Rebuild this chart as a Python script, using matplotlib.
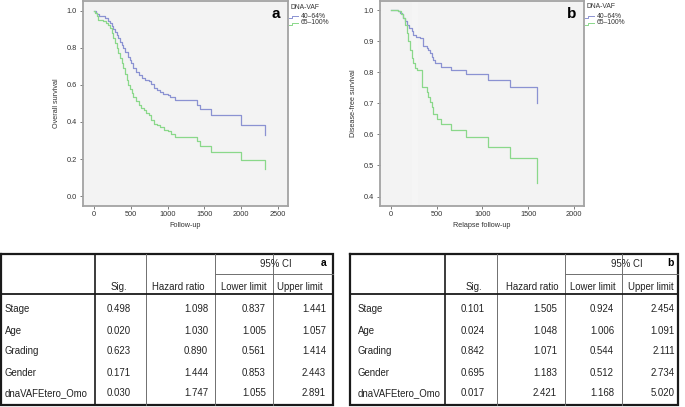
import matplotlib
matplotlib.use('Agg')
import matplotlib.pyplot as plt

plt.rcParams['font.family'] = ['Liberation Sans', 'DejaVu Sans']

# ---------------- data: panel a (overall survival) ----------------
a_t_low = [0, 23, 45, 73, 105, 150, 195, 218, 241, 264, 286, 309, 332, 355, 377,
           400, 423, 455, 482, 505, 536, 573, 605, 650, 695, 741, 773, 809, 855,
           900, 936, 1000, 1036, 1105, 1400, 1436, 1591, 2000, 2323]
a_s_low = [1.0, 0.989, 0.982, 0.973, 0.968, 0.958, 0.946, 0.931, 0.917, 0.899,
           0.883, 0.868, 0.850, 0.832, 0.814, 0.796, 0.778, 0.751, 0.733, 0.715,
           0.688, 0.670, 0.653, 0.639, 0.628, 0.621, 0.606, 0.585, 0.574, 0.561,
           0.552, 0.543, 0.534, 0.516, 0.489, 0.471, 0.435, 0.386, 0.327]
a_t_high = [0, 18, 36, 59, 127, 164, 195, 218, 241, 264, 286, 309, 332, 355, 377,
            400, 423, 445, 468, 491, 514, 536, 573, 605, 641, 673, 709, 741, 773,
            809, 855, 900, 945, 1000, 1045, 1105, 1400, 1436, 1591, 2000, 2323]
a_s_high = [1.0, 0.986, 0.968, 0.949, 0.944, 0.935, 0.922, 0.904, 0.877, 0.850,
            0.823, 0.796, 0.769, 0.742, 0.715, 0.688, 0.657, 0.625, 0.597, 0.579,
            0.556, 0.534, 0.511, 0.489, 0.475, 0.462, 0.449, 0.435, 0.412, 0.390,
            0.381, 0.372, 0.359, 0.350, 0.336, 0.318, 0.300, 0.273, 0.236, 0.195,
            0.146]

# ---------------- data: panel b (disease-free survival) ----------------
b_t_low = [0, 84, 102, 120, 138, 156, 175, 204, 229, 247, 276, 320, 349, 393, 411,
           429, 447, 465, 484, 520, 545, 658, 822, 1065, 1302, 1600]
b_s_low = [1.0, 0.998, 0.992, 0.987, 0.976, 0.965, 0.954, 0.944, 0.933, 0.922,
           0.914, 0.911, 0.884, 0.879, 0.873, 0.862, 0.849, 0.841, 0.832, 0.830,
           0.819, 0.808, 0.795, 0.776, 0.752, 0.700]
b_t_high = [0, 84, 109, 138, 156, 175, 193, 211, 229, 247, 265, 284, 338, 393, 411,
            429, 447, 465, 502, 549, 658, 822, 1065, 1302, 1600]
b_s_high = [1.0, 0.998, 0.987, 0.976, 0.954, 0.927, 0.900, 0.873, 0.846, 0.830,
            0.814, 0.808, 0.752, 0.738, 0.722, 0.705, 0.689, 0.667, 0.651, 0.633,
            0.613, 0.592, 0.561, 0.523, 0.442]

legend_title = "DNA-VAF"
group_labels = ["40\u201364%", "65\u2013100%"]

# ---------------- data: tables ----------------
row_labels = ["Stage", "Age", "Grading", "Gender", "dnaVAFEtero_Omo"]
a_sig = ["0.498", "0.020", "0.623", "0.171", "0.030"]
a_hr = ["1.098", "1.030", "0.890", "1.444", "1.747"]
a_lo = ["0.837", "1.005", "0.561", "0.853", "1.055"]
a_hi = ["1.441", "1.057", "1.414", "2.443", "2.891"]
b_sig = ["0.101", "0.024", "0.842", "0.695", "0.017"]
b_hr = ["1.505", "1.048", "1.071", "1.183", "2.421"]
b_lo = ["0.924", "1.006", "0.544", "0.512", "1.168"]
b_hi = ["2.454", "1.091", "2.111", "2.734", "5.020"]
col_headers = ["Sig.", "Hazard ratio", "Lower limit", "Upper limit"]
ci_header = "95% CI"

BLUE = '#8b92d2'
GREEN = '#8ad88a'
W, H = 685, 407

fig = plt.figure(figsize=(6.85, 4.07), dpi=100)


def px_axes(l, r, t, b):
    return fig.add_axes([l / W, 1 - b / H, (r - l) / W, (b - t) / H])


def style(ax):
    ax.set_facecolor('#f3f3f3')
    for sp in ax.spines.values():
        sp.set_color('#a3a3a3')
        sp.set_linewidth(1.3)
    ax.tick_params(direction='out', length=2.2, width=0.6, color='#666',
                   labelsize=5.3, labelcolor='#333', pad=2)


# Panel a
axa = px_axes(83, 288, 0.5, 205.5)
style(axa)
axa.step(a_t_low, a_s_low, where='post', color=BLUE, lw=0.9)
axa.step(a_t_high, a_s_high, where='post', color=GREEN, lw=0.9)
axa.set_xlim(-150, 2636)
axa.set_ylim(-0.05, 1.054)
axa.set_xticks([0, 500, 1000, 1500, 2000, 2500])
axa.set_yticks([0.0, 0.2, 0.4, 0.6, 0.8, 1.0])
axa.set_yticklabels(['0.0', '0.2', '0.4', '0.6', '0.8', '1.0'])
axa.set_xlabel('Follow-up', fontsize=5.2, color='#333', labelpad=2.5)
axa.set_ylabel('Overall survival', fontsize=5.2, color='#333', labelpad=5)

# Panel b
axb = px_axes(380, 584, 0.5, 205.5)
style(axb)
axb.axvspan(229, 300, color='white', alpha=0.2, lw=0)
axb.step(b_t_low, b_s_low, where='post', color=BLUE, lw=0.9)
axb.step(b_t_high, b_s_high, where='post', color=GREEN, lw=0.9)
axb.set_xlim(-117, 2109)
axb.set_ylim(0.371, 1.032)
axb.set_xticks([0, 500, 1000, 1500, 2000])
axb.set_yticks([0.4, 0.5, 0.6, 0.7, 0.8, 0.9, 1.0])
axb.set_yticklabels(['0.4', '0.5', '0.6', '0.7', '0.8', '0.9', '1.0'])
axb.set_xlabel('Relapse follow-up', fontsize=5.2, color='#333', labelpad=2.5)
axb.set_ylabel('Disease-free survival', fontsize=5.2, color='#333', labelpad=5)

# Overlay in pixel coordinates
ov = fig.add_axes([0, 0, 1, 1], facecolor='none')
ov.set_xlim(0, W)
ov.set_ylim(H, 0)
ov.axis('off')

# panel letters
ov.text(276, 14, 'a', fontsize=11, fontweight='bold', ha='center', va='center')
ov.text(572, 14, 'b', fontsize=11, fontweight='bold', ha='center', va='center')

# legends
for (x0, ty) in [(291, 7.5), (587, 7)]:
    ov.text(x0, ty, legend_title, fontsize=4.9, color='#333', ha='left', va='center')
    for k, (lab, col) in enumerate(zip(group_labels, [BLUE, GREEN])):
        y = 16.5 + 6.5 * k
        ov.plot([x0 - 2, x0 + 1, x0 + 1, x0 + 7], [y + 1.5, y + 1.5, y - 0.5, y - 0.5],
                color=col, lw=0.7)
        ov.text(x0 + 10, y, lab, fontsize=4.9, color='#333', ha='left', va='center')

# tables
row_y = [309.5, 330.5, 351.5, 372.5, 393.5]


def draw_table(L, R, cols, label_x, sig_x, hr_x, lo_x, hi_x, hdr_x, ci_x,
               letter, letter_x, sig, hr, lo, hi):
    top, bot = 253.5, 405
    ci_line, hdr_bot = 274, 293.5
    dark = '#1a1a1a'
    thin = '#6f6f6f'
    ov.plot([L, R, R, L, L], [top, top, bot, bot, top], color=dark, lw=1.6,
            solid_joinstyle='miter')
    ov.plot([cols[0], cols[0]], [top, bot], color=dark, lw=1.2)
    for c in cols[1:]:
        ov.plot([c, c], [top, bot], color=thin, lw=0.7)
    ov.plot([cols[2], R], [ci_line, ci_line], color=thin, lw=0.7)
    ov.plot([L, R], [hdr_bot, hdr_bot], color=dark, lw=1.3)
    fs = 6.9
    tc = '#222'
    for xh, h in zip(hdr_x, col_headers):
        ov.text(xh, 286.5, h, fontsize=fs, color=tc, ha='center', va='center')
    ov.text(ci_x, 264, ci_header, fontsize=fs, color=tc, ha='center', va='center')
    ov.text(letter_x, 263.5, letter, fontsize=7.5, fontweight='bold',
            ha='right', va='center')
    for i, y in enumerate(row_y):
        ov.text(label_x, y, row_labels[i], fontsize=fs, color=tc, ha='left', va='center')
        ov.text(sig_x, y, sig[i], fontsize=fs, color=tc, ha='center', va='center')
        ov.text(hr_x, y, hr[i], fontsize=fs, color=tc, ha='right', va='center')
        ov.text(lo_x, y, lo[i], fontsize=fs, color=tc, ha='right', va='center')
        ov.text(hi_x, y, hi[i], fontsize=fs, color=tc, ha='right', va='center')


draw_table(1, 333.5, [95, 146, 215, 273], 5, 119, 208, 266, 326,
           [119, 178.5, 244, 300], 276, 'a', 327, a_sig, a_hr, a_lo, a_hi)
draw_table(350, 678, [445, 497, 565, 622], 358, 473, 557, 614, 675,
           [474, 532, 593, 651], 627, 'b', 674, b_sig, b_hr, b_lo, b_hi)

fig.savefig('out.png', dpi=100)
